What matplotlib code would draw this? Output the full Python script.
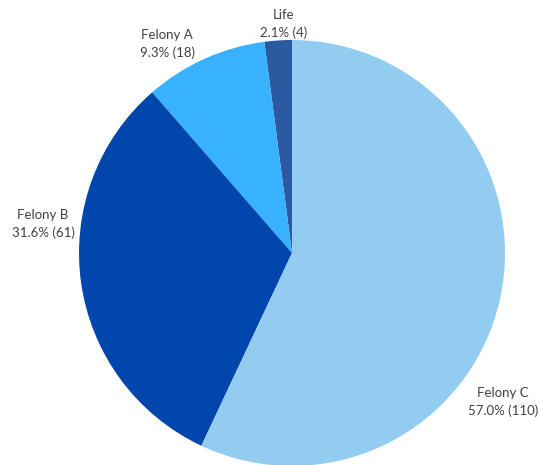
import matplotlib
matplotlib.use("Agg")
import matplotlib.pyplot as plt

categories = ["Life", "Felony A", "Felony B", "Felony C"]
counts = [4, 18, 61, 110]
colors = ["#2C5AA0", "#38B2FF", "#0046AD", "#92CDF1"]

# label anchor points in pixel coords (x from left, y from top)
label_pos = {
    "Life": (284, 24),
    "Felony A": (167, 44),
    "Felony B": (43, 224),
    "Felony C": (503, 402),
}

W, H = 539, 465
CENTER = (292, H - 253)
RADIUS = 213


def main() -> None:
    plt.rcParams["font.family"] = ["Lato", "DejaVu Sans"]
    fig = plt.figure(figsize=(W / 100, H / 100), dpi=100)
    ax = fig.add_axes([0, 0, 1, 1])
    ax.pie(
        counts,
        colors=colors,
        startangle=90,
        counterclock=True,
        center=CENTER,
        radius=RADIUS,
        wedgeprops={"linewidth": 0},
    )
    ax.set_xlim(0, W)
    ax.set_ylim(0, H)
    ax.set_aspect("equal")
    ax.axis("off")

    total = sum(counts)
    for name, n in zip(categories, counts):
        x, y = label_pos[name]
        ax.text(x, H - y, f"{name}\n{n / total * 100:.1f}% ({n})",
                ha="center", va="center", fontsize=9.5, color="#404040",
                linespacing=1.45)

    fig.savefig("out.png", dpi=100)
    plt.close(fig)


if __name__ == "__main__":
    main()
